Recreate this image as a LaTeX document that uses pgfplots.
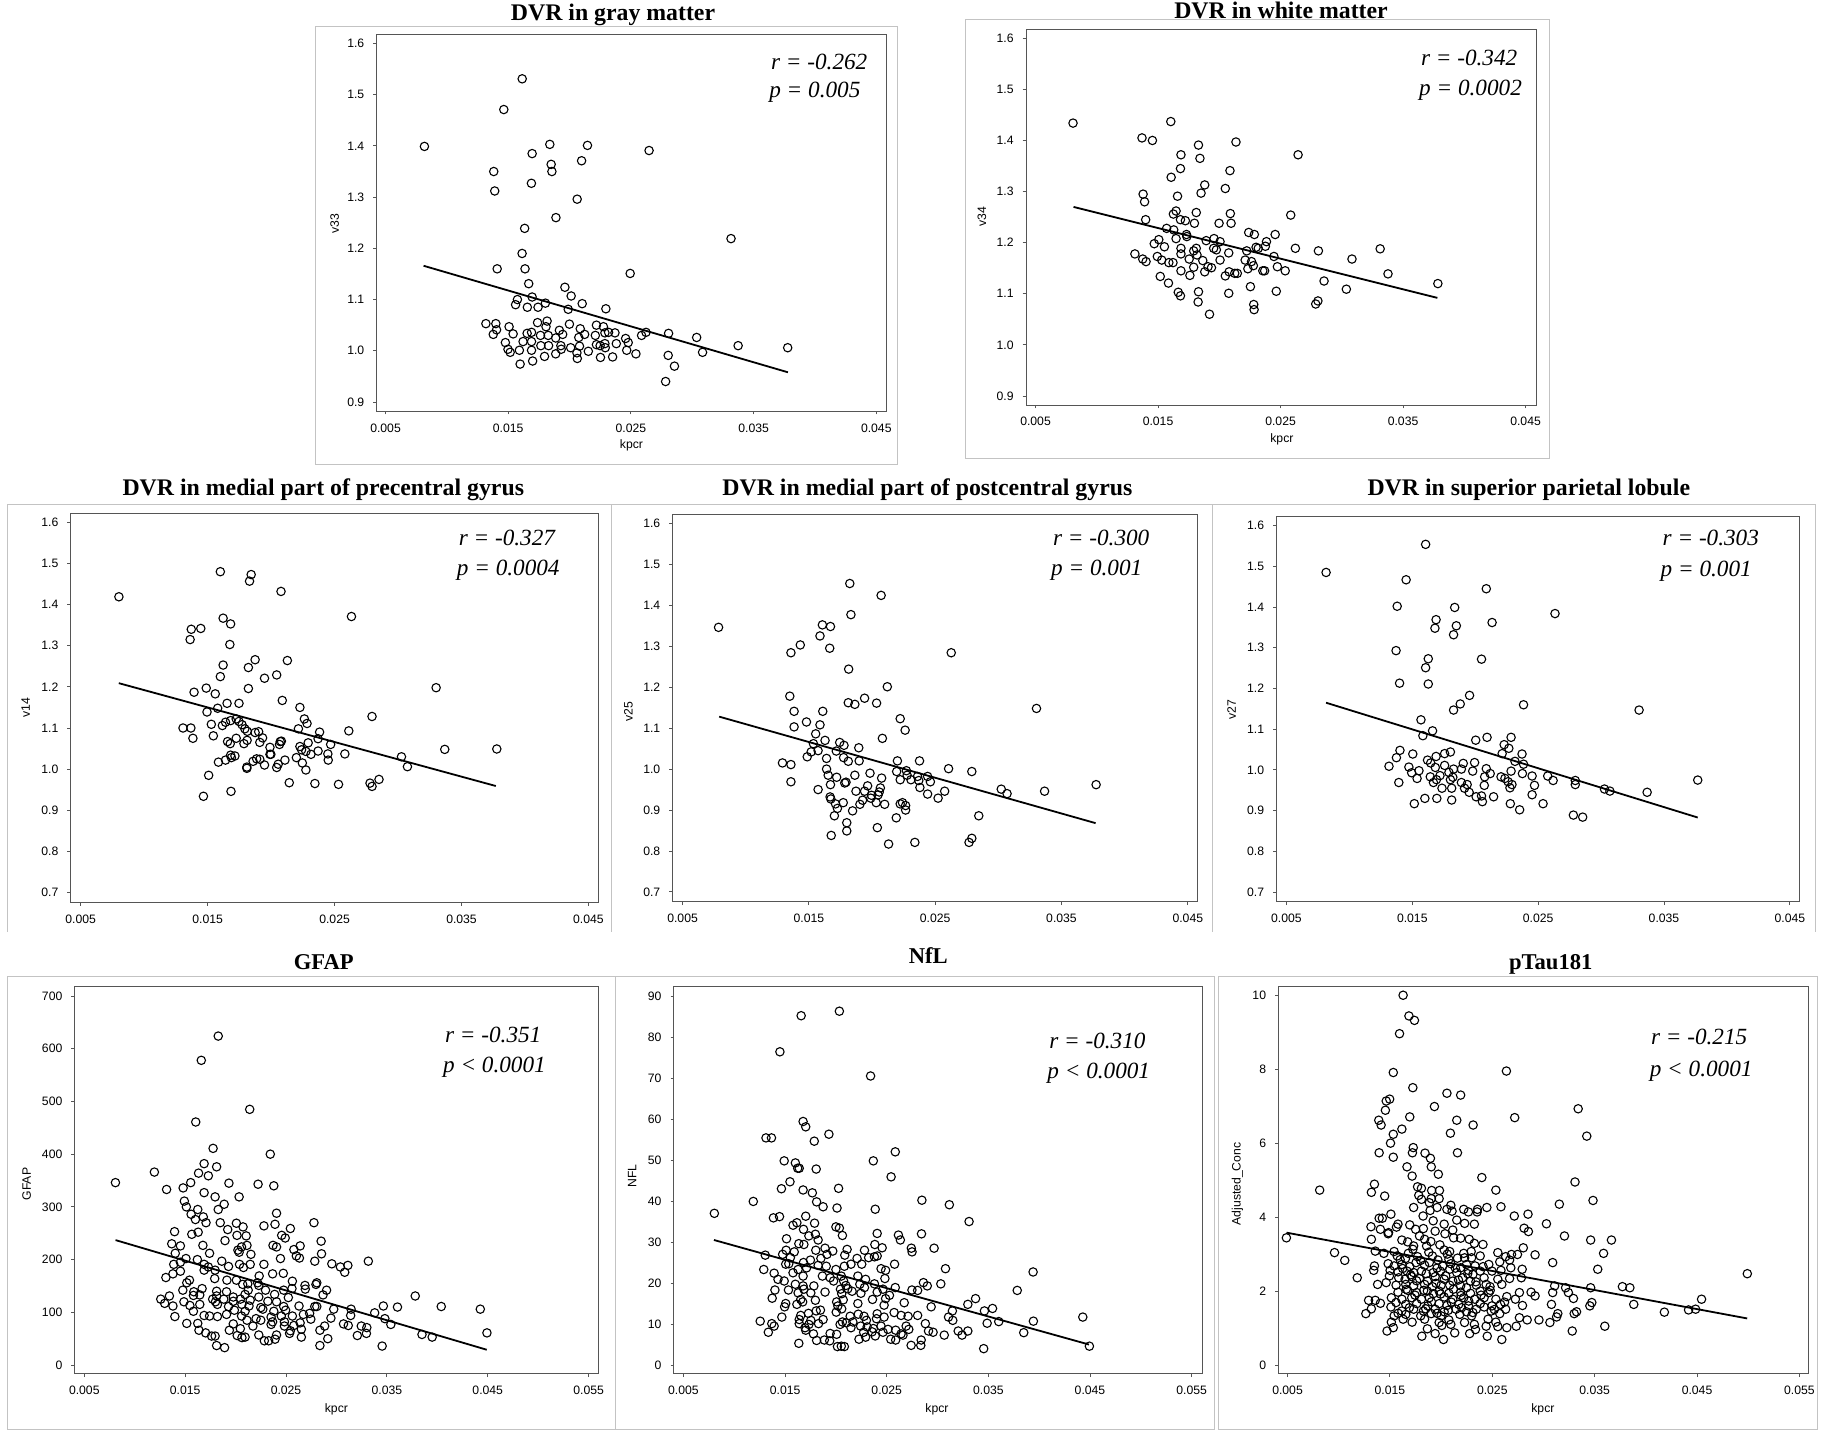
\documentclass[border=0pt]{standalone}
\usepackage{pgfplots}
\pgfplotsset{compat=1.18}
\usepackage{fontspec}
\setmainfont{Liberation Serif}
\setsansfont{Liberation Sans}
\definecolor{frame}{RGB}{85,85,85}
\definecolor{boxc}{RGB}{195,195,195}
\newcommand{\tfont}{\sffamily\fontsize{6.1}{6.5}\selectfont}
\newcommand{\ttl}{\fontsize{11.9}{12}\selectfont\bfseries}
\newcommand{\ttlb}{\fontsize{11.3}{12}\selectfont\bfseries}
\newcommand{\ann}{\fontsize{11.6}{12}\selectfont\itshape}
\pgfplotsset{
 panel/.style={scale only axis, anchor=north west,
   axis line style={frame, line width=0.5pt},
   tick style={frame, line width=0.5pt},
   tick align=outside, major tick length=1.7pt, tick pos=left,
   scaled x ticks=false, scaled y ticks=false,
   ticklabel style={font=\tfont, text=black},
   xticklabel style={yshift=-1pt}, yticklabel style={xshift=-1pt},
   /pgf/number format/assume math mode=true},
 xA/.style={xtick={0.005,0.015,0.025,0.035,0.045}, xticklabels={0.005,0.015,0.025,0.035,0.045}},
 xB/.style={xtick={0.005,0.015,0.025,0.035,0.045,0.055}, xticklabels={0.005,0.015,0.025,0.035,0.045,0.055}},
 yA/.style={ymin=0.8824, ymax=1.6175, ytick={0.9,1,1.1,1.2,1.3,1.4,1.5,1.6}, yticklabels={0.9,1.0,1.1,1.2,1.3,1.4,1.5,1.6}},
 yB/.style={ymin=0.6762, ymax=1.6219, ytick={0.7,0.8,0.9,1,1.1,1.2,1.3,1.4,1.5,1.6}, yticklabels={0.7,0.8,0.9,1.0,1.1,1.2,1.3,1.4,1.5,1.6}},
 pts/.style={only marks, mark=o, mark size=2.1pt, mark options={line width=0.55pt, black}},
 fit/.style={black, line width=0.9pt, no marks},
}
\begin{document}
\begin{tikzpicture}
\fill[white] (0,0) rectangle (912pt,-716pt);
\useasboundingbox (0,0) rectangle (912pt,-716pt);
% outer boxes
\draw[boxc, line width=0.5pt] (157.65pt,-13pt) rectangle (448.85pt,-232pt);
\draw[boxc, line width=0.5pt] (482.5pt,-9.5pt) rectangle (774.5pt,-229pt);
\draw[boxc, line width=0.5pt] (3.5pt,-466pt) -- (3.5pt,-252pt) -- (305.85pt,-252pt) -- (305.85pt,-466pt);
\draw[boxc, line width=0.5pt] (305.85pt,-252pt) -- (606.4pt,-252pt) -- (606.4pt,-466pt);
\draw[boxc, line width=0.5pt] (606.4pt,-252pt) -- (907.5pt,-252pt) -- (907.5pt,-466pt);
\draw[boxc, line width=0.5pt] (3.65pt,-488.35pt) rectangle (307.5pt,-714.5pt);
\draw[boxc, line width=0.5pt] (307.5pt,-488.35pt) rectangle (607.4pt,-714.5pt);
\draw[boxc, line width=0.5pt] (609pt,-488.35pt) rectangle (908.5pt,-714.5pt);

% ---------- P1 gray matter
\begin{axis}[panel, xA, yA, at={(188.35pt,-17.25pt)}, width=255pt, height=188.25pt, xmin=0.00428, xmax=0.04585]
\addplot[pts] coordinates {(0.00817,1.399)(0.01614,1.531)(0.01464,1.471)(0.01382,1.350)(0.0139,1.312)(0.0141,1.160)(0.01695,1.385)(0.01839,1.403)(0.0185,1.364)(0.01856,1.350)(0.01689,1.327)(0.02098,1.371)(0.02146,1.401)(0.02062,1.296)(0.01889,1.260)(0.01634,1.239)(0.01613,1.190)(0.01637,1.160)(0.01667,1.131)(0.02648,1.391)(0.03316,1.219)(0.02494,1.151)(0.01962,1.124)(0.02013,1.107)(0.01695,1.105)(0.01575,1.100)(0.0156,1.090)(0.01656,1.085)(0.01743,1.085)(0.01803,1.093)(0.01989,1.081)(0.02103,1.092)(0.02296,1.082)(0.01318,1.053)(0.01399,1.053)(0.01405,1.041)(0.01378,1.032)(0.01507,1.047)(0.0154,1.033)(0.01477,1.016)(0.01498,1.003)(0.01516,0.997)(0.01591,1.001)(0.01597,0.974)(0.01621,1.018)(0.01654,1.034)(0.0169,1.036)(0.0169,1.001)(0.01699,0.980)(0.0169,1.018)(0.01739,1.055)(0.01763,1.030)(0.01766,1.010)(0.01796,0.989)(0.01808,1.047)(0.01817,1.058)(0.01826,1.030)(0.01829,1.010)(0.01887,1.025)(0.01917,1.040)(0.01929,1.010)(0.01944,1.032)(0.01887,0.994)(0.01932,1.003)(0.01999,1.052)(0.02009,1.006)(0.02060,0.996)(0.02063,0.985)(0.02075,1.026)(0.02087,1.043)(0.02081,1.009)(0.02123,1.032)(0.02153,0.999)(0.02219,1.050)(0.0221,1.030)(0.02219,1.012)(0.02252,0.987)(0.02249,1.010)(0.02276,1.047)(0.02288,1.035)(0.02288,1.014)(0.02291,1.006)(0.02318,1.036)(0.02370,1.035)(0.02381,1.014)(0.02351,0.988)(0.02457,1.024)(0.02478,1.016)(0.02466,1.001)(0.02541,0.994)(0.02587,1.030)(0.02623,1.036)(0.02807,1.034)(0.02804,0.991)(0.02783,0.940)(0.02855,0.970)(0.03036,1.026)(0.03084,0.997)(0.03374,1.010)(0.03778,1.006)};
\addplot[fit] coordinates {(0.0081,1.166)(0.0378,0.958)};
\end{axis}

% ---------- P2 white matter
\begin{axis}[panel, xA, yA, at={(513.05pt,-14.65pt)}, width=255pt, height=187.85pt, xmin=0.00423, xmax=0.04586]
\addplot[pts] coordinates {(0.00806,1.434)(0.01604,1.437)(0.01369,1.405)(0.01454,1.400)(0.01687,1.372)(0.01830,1.391)(0.01842,1.365)(0.01683,1.345)(0.01607,1.328)(0.02136,1.397)(0.02087,1.341)(0.02643,1.372)(0.01881,1.313)(0.01851,1.297)(0.02049,1.306)(0.01378,1.295)(0.0139,1.280)(0.01659,1.291)(0.01399,1.245)(0.01647,1.262)(0.01625,1.256)(0.01812,1.259)(0.0209,1.257)(0.02096,1.238)(0.01998,1.238)(0.01683,1.245)(0.01723,1.243)(0.02583,1.254)(0.01797,1.238)(0.0157,1.228)(0.01628,1.225)(0.01732,1.216)(0.01647,1.208)(0.01735,1.212)(0.01506,1.206)(0.01469,1.198)(0.01552,1.192)(0.01311,1.178)(0.01375,1.168)(0.01402,1.163)(0.01494,1.173)(0.0153,1.166)(0.01588,1.161)(0.01622,1.161)(0.01687,1.189)(0.01687,1.178)(0.01754,1.168)(0.01791,1.184)(0.01812,1.189)(0.01818,1.176)(0.01865,1.165)(0.01791,1.152)(0.01893,1.204)(0.01957,1.208)(0.02006,1.202)(0.01954,1.189)(0.01976,1.186)(0.02077,1.180)(0.02006,1.166)(0.01881,1.143)(0.01908,1.153)(0.01936,1.151)(0.01518,1.134)(0.01585,1.121)(0.01687,1.145)(0.0176,1.136)(0.02049,1.135)(0.0208,1.143)(0.02126,1.140)(0.02147,1.140)(0.01665,1.103)(0.01683,1.096)(0.0183,1.104)(0.01827,1.084)(0.02077,1.101)(0.0192,1.060)(0.0224,1.220)(0.02286,1.216)(0.02456,1.216)(0.02224,1.184)(0.02211,1.166)(0.02233,1.149)(0.02263,1.163)(0.02278,1.155)(0.023,1.191)(0.02318,1.189)(0.02385,1.202)(0.02376,1.193)(0.02446,1.173)(0.02474,1.153)(0.02355,1.145)(0.0237,1.145)(0.02538,1.145)(0.02254,1.114)(0.02465,1.105)(0.02281,1.079)(0.02284,1.069)(0.02621,1.189)(0.02809,1.184)(0.02855,1.125)(0.02787,1.080)(0.02805,1.086)(0.03037,1.109)(0.03083,1.168)(0.03313,1.188)(0.03377,1.139)(0.03784,1.120)};
\addplot[fit] coordinates {(0.0081,1.270)(0.0378,1.092)};
\end{axis}

% ---------- P3 precentral
\begin{axis}[panel, xA, yB, at={(35.4pt,-256.65pt)}, width=263.65pt, height=194.5pt, xmin=0.00422, xmax=0.04576]
\addplot[pts] coordinates {(0.00801,1.419)(0.0160,1.480)(0.01843,1.473)(0.0183,1.457)(0.02078,1.432)(0.02633,1.371)(0.01622,1.367)(0.01681,1.353)(0.01371,1.340)(0.01446,1.342)(0.01362,1.315)(0.01675,1.303)(0.01874,1.266)(0.02128,1.264)(0.01622,1.253)(0.01821,1.247)(0.016,1.225)(0.02044,1.229)(0.01948,1.221)(0.01821,1.196)(0.01489,1.197)(0.01393,1.187)(0.0156,1.183)(0.01653,1.160)(0.01747,1.160)(0.02088,1.167)(0.01579,1.148)(0.02227,1.150)(0.033,1.198)(0.01495,1.139)(0.02262,1.122)(0.02283,1.111)(0.02795,1.128)(0.01306,1.1)(0.01368,1.1)(0.01384,1.075)(0.01529,1.109)(0.01545,1.081)(0.01616,1.106)(0.01641,1.114)(0.01681,1.118)(0.01725,1.122)(0.01747,1.116)(0.01771,1.108)(0.01793,1.098)(0.01812,1.092)(0.01657,1.067)(0.01678,1.062)(0.01725,1.075)(0.01786,1.062)(0.01811,1.070)(0.01874,1.089)(0.01902,1.091)(0.01911,1.065)(0.01933,1.076)(0.01991,1.053)(0.01998,1.036)(0.02072,1.067)(0.02081,1.068)(0.02066,1.060)(0.02227,1.055)(0.0224,1.047)(0.02215,1.098)(0.02274,1.043)(0.02292,1.064)(0.02314,1.036)(0.0237,1.044)(0.0237,1.074)(0.02382,1.090)(0.02447,1.037)(0.0245,1.022)(0.02469,1.060)(0.02581,1.037)(0.02612,1.093)(0.01585,1.017)(0.01641,1.022)(0.01681,1.034)(0.01715,1.032)(0.01687,1.028)(0.01809,1.005)(0.01809,1.002)(0.01858,1.019)(0.01886,1.025)(0.01911,1.024)(0.01948,1.010)(0.01991,1.036)(0.02044,1.004)(0.02056,1.012)(0.02109,1.022)(0.02199,1.028)(0.02246,1.015)(0.02274,0.998)(0.02143,0.967)(0.02345,0.965)(0.02531,0.963)(0.02779,0.966)(0.02795,0.958)(0.0285,0.975)(0.01508,0.985)(0.01467,0.934)(0.01684,0.946)(0.03027,1.030)(0.03074,1.006)(0.03368,1.048)(0.03778,1.049)};
\addplot[fit] coordinates {(0.0080,1.209)(0.0377,0.959)};
\end{axis}

% ---------- P4 postcentral
\begin{axis}[panel, xA, yB, at={(336.35pt,-257.15pt)}, width=262.35pt, height=193.7pt, xmin=0.00422, xmax=0.04576]
\addplot[pts] coordinates {(0.00785,1.346)(0.01824,1.453)(0.02072,1.424)(0.01833,1.377)(0.01607,1.352)(0.01671,1.348)(0.01588,1.325)(0.01665,1.295)(0.01432,1.303)(0.01358,1.284)(0.02627,1.284)(0.01815,1.244)(0.02121,1.201)(0.01941,1.173)(0.01812,1.162)(0.01864,1.158)(0.02036,1.161)(0.03302,1.148)(0.01349,1.178)(0.0161,1.141)(0.01383,1.141)(0.01383,1.103)(0.01481,1.115)(0.01588,1.108)(0.02223,1.123)(0.02262,1.095)(0.02082,1.075)(0.01554,1.086)(0.01628,1.070)(0.01744,1.065)(0.01778,1.058)(0.01536,1.062)(0.01518,1.042)(0.01487,1.030)(0.01573,1.045)(0.0164,1.026)(0.01717,1.044)(0.01775,1.028)(0.01895,1.052)(0.01812,1.019)(0.01898,1.020)(0.01358,1.011)(0.01358,0.969)(0.01291,1.015)(0.01573,0.950)(0.0164,1.0)(0.01653,0.985)(0.01671,0.962)(0.01668,0.932)(0.01674,0.927)(0.01711,0.915)(0.01726,0.904)(0.01702,0.886)(0.01677,0.838)(0.01772,0.918)(0.01846,0.898)(0.018,0.869)(0.018,0.849)(0.01794,0.968)(0.01784,0.966)(0.01864,0.985)(0.01873,0.946)(0.01904,0.914)(0.01925,0.924)(0.01941,0.946)(0.01965,0.959)(0.01984,0.990)(0.0199,0.929)(0.01996,0.936)(0.02033,0.918)(0.02048,0.937)(0.02057,0.944)(0.02066,0.954)(0.02076,0.978)(0.021,0.914)(0.02042,0.857)(0.02131,0.817)(0.02192,0.881)(0.02201,1.020)(0.02195,0.994)(0.02223,0.974)(0.02223,0.915)(0.02241,0.918)(0.02266,0.911)(0.02266,0.9)(0.02272,0.996)(0.02278,0.985)(0.02308,0.974)(0.02339,0.821)(0.0236,0.982)(0.0237,0.972)(0.02376,1.020)(0.02379,0.955)(0.0244,0.982)(0.0244,0.939)(0.02462,0.969)(0.02523,0.929)(0.02575,0.946)(0.02606,1.001)(0.0279,0.994)(0.02768,0.821)(0.0279,0.831)(0.02845,0.886)(0.03023,0.951)(0.03069,0.940)(0.03366,0.946)(0.03774,0.962)(0.0172,0.980)};
\addplot[fit] coordinates {(0.0079,1.128)(0.0377,0.868)};
\end{axis}

% ---------- P5 superior parietal
\begin{axis}[panel, xA, yB, at={(638.3pt,-258.35pt)}, width=261.4pt, height=192.5pt, xmin=0.00422, xmax=0.04576]
\addplot[pts] coordinates {(0.00815,1.485)(0.01606,1.554)(0.01451,1.467)(0.02088,1.445)(0.0138,1.402)(0.01837,1.399)(0.02634,1.384)(0.01689,1.369)(0.0168,1.348)(0.0185,1.354)(0.01828,1.332)(0.02134,1.362)(0.01371,1.293)(0.01627,1.273)(0.01606,1.251)(0.0205,1.272)(0.01627,1.211)(0.01399,1.213)(0.01955,1.183)(0.01881,1.162)(0.01828,1.147)(0.02384,1.160)(0.03302,1.147)(0.01569,1.123)(0.01661,1.096)(0.01584,1.084)(0.02004,1.073)(0.02094,1.080)(0.02285,1.080)(0.0223,1.062)(0.02267,1.053)(0.02214,1.040)(0.02372,1.039)(0.02316,1.021)(0.02384,1.014)(0.01402,1.048)(0.01374,1.030)(0.01315,1.009)(0.01393,0.969)(0.01473,1.007)(0.01504,1.039)(0.01495,0.993)(0.01538,0.979)(0.01553,0.998)(0.01621,1.024)(0.01646,1.017)(0.01689,1.033)(0.01683,1.006)(0.01643,0.983)(0.01668,0.969)(0.01692,0.976)(0.0172,0.986)(0.01757,1.011)(0.01757,1.040)(0.01803,1.044)(0.01791,0.994)(0.01803,0.976)(0.01736,0.955)(0.01828,1.002)(0.01822,0.982)(0.01813,0.955)(0.01905,1.016)(0.0189,1.002)(0.0189,0.969)(0.01915,0.955)(0.01936,0.964)(0.01952,0.945)(0.0198,0.997)(0.01995,1.018)(0.02007,0.934)(0.0205,0.936)(0.02057,0.922)(0.02072,0.962)(0.02075,0.983)(0.02088,1.003)(0.02119,0.991)(0.02146,0.934)(0.016,0.930)(0.01516,0.917)(0.01695,0.930)(0.01813,0.926)(0.02205,0.983)(0.02236,0.979)(0.02261,0.971)(0.02276,0.956)(0.02292,0.964)(0.02285,0.997)(0.02279,0.917)(0.02353,0.902)(0.02375,0.991)(0.02452,0.985)(0.02471,0.962)(0.02452,0.939)(0.02539,0.917)(0.02576,0.985)(0.02619,0.974)(0.02795,0.974)(0.02795,0.964)(0.0278,0.889)(0.02854,0.884)(0.03027,0.953)(0.0307,0.948)(0.03366,0.945)(0.03768,0.975)};
\addplot[fit] coordinates {(0.00815,1.165)(0.03768,0.883)};
\end{axis}

% ---------- P6 GFAP
\begin{axis}[panel, xB, at={(37.4pt,-493.35pt)}, width=261.65pt, height=193.5pt, xmin=0.00406, xmax=0.05594, ymin=-16.5, ymax=717.6, ytick={0,100,200,300,400,500,600,700}, yticklabels={0,100,200,300,400,500,600,700}]
\addplot[pts] coordinates {(0.00809,346)(0.01195,366)(0.01316,333)(0.01828,624)(0.0166,578)(0.0214,485)(0.01605,461)(0.01777,411)(0.02344,400)(0.01812,376)(0.01688,382)(0.01633,364)(0.0173,359)(0.01555,346)(0.0148,336)(0.01934,345)(0.02223,343)(0.02379,340)(0.01688,327)(0.01797,319)(0.02035,319)(0.01887,305)(0.01492,311)(0.01512,300)(0.01625,295)(0.01828,295)(0.01559,286)(0.0168,281)(0.01602,276)(0.01707,270)(0.02406,288)(0.01848,270)(0.02008,269)(0.02281,264)(0.02391,267)(0.02074,262)(0.01922,257)(0.02543,259)(0.02777,270)(0.01395,253)(0.01629,252)(0.01566,248)(0.02014,246)(0.02105,245)(0.02457,246)(0.02492,241)(0.01895,236)(0.02848,235)(0.01367,230)(0.01453,226)(0.01676,227)(0.02113,227)(0.02059,224)(0.02371,227)(0.02406,224)(0.0264,226)(0.02578,219)(0.02023,218)(0.02035,214)(0.01402,212)(0.01742,212)(0.02152,210)(0.02445,202)(0.02602,207)(0.02633,203)(0.01508,202)(0.01621,200)(0.02852,211)(0.02785,197)(0.02954,192)(0.03316,197)(0.03113,189)(0.03039,186)(0.03082,176)(0.01387,191)(0.01453,195)(0.01688,191)(0.0173,186)(0.01863,197)(0.0193,187)(0.02039,191)(0.02078,185)(0.02145,191)(0.02281,191)(0.02367,173)(0.02473,174)(0.01688,180)(0.01797,180)(0.01453,178)(0.01379,173)(0.01309,166)(0.01793,164)(0.01914,161)(0.02008,161)(0.02121,154)(0.02219,156)(0.02234,169)(0.02563,159)(0.01516,156)(0.01543,161)(0.0207,153)(0.0223,151)(0.02688,151)(0.02797,153)(0.02805,156)(0.01477,142)(0.01668,145)(0.01586,139)(0.01812,140)(0.0191,139)(0.02125,142)(0.02297,142)(0.02477,142)(0.02559,145)(0.02691,144)(0.02902,142)(0.01344,131)(0.01582,132)(0.01645,133)(0.01812,131)(0.01977,129)(0.02094,134)(0.0223,129)(0.02387,134)(0.02523,128)(0.02867,133)(0.03781,131)(0.01258,125)(0.01297,117)(0.01773,125)(0.01883,125)(0.01977,121)(0.02047,125)(0.02145,123)(0.0232,121)(0.02406,120)(0.01379,112)(0.01488,120)(0.01547,113)(0.01645,115)(0.0182,115)(0.01801,120)(0.0193,111)(0.02063,115)(0.02133,112)(0.0225,109)(0.02477,111)(0.02629,112)(0.02785,111)(0.02805,111)(0.02973,106)(0.03145,106)(0.03465,112)(0.03605,110)(0.04039,111)(0.04426,106)(0.01582,102)(0.01988,104)(0.02094,102)(0.0227,106)(0.02379,102)(0.02496,104)(0.03379,99)(0.03141,94)(0.01398,92)(0.01688,94)(0.01742,93)(0.0182,92)(0.0191,96)(0.02059,93)(0.02203,88)(0.02352,91)(0.02453,93)(0.02563,93)(0.02672,96)(0.02734,98)(0.02945,89)(0.0348,88)(0.0225,85)(0.02113,85)(0.02367,82)(0.02484,82)(0.0264,80)(0.02746,87)(0.01516,79)(0.01625,79)(0.01977,78)(0.02172,74)(0.02352,77)(0.02484,74)(0.02578,75)(0.02883,74)(0.0307,78)(0.03117,75)(0.03246,74)(0.03301,71)(0.03539,77)(0.01938,66)(0.01637,66)(0.02047,69)(0.02543,65)(0.02652,68)(0.02836,66)(0.01703,61)(0.02016,56)(0.02063,52)(0.02094,53)(0.0223,57)(0.02406,57)(0.02535,60)(0.02652,53)(0.03297,60)(0.03207,56)(0.03848,58)(0.03949,53)(0.04492,61)(0.01762,55)(0.01797,55)(0.02285,46)(0.02328,46)(0.02391,49)(0.02914,50)(0.01812,37)(0.01891,33)(0.02836,37)(0.03453,36)};
\addplot[fit] coordinates {(0.0081,237)(0.0449,29)};
\end{axis}

% ---------- P7 NfL
\begin{axis}[panel, xB, at={(336.95pt,-493.35pt)}, width=264.05pt, height=193.5pt, xmin=0.00406, xmax=0.05602, ymin=-2.12, ymax=92.27, ytick={0,10,20,30,40,50,60,70,80,90}, yticklabels={0,10,20,30,40,50,60,70,80,90}]
\addplot[pts] coordinates {(0.00804,37.0)(0.01187,39.9)(0.01658,85.2)(0.02034,86.3)(0.01449,76.4)(0.02341,70.5)(0.01677,59.4)(0.01703,58.1)(0.01312,55.4)(0.01366,55.4)(0.01931,56.3)(0.01787,54.6)(0.02584,52.0)(0.01491,49.8)(0.01601,49.3)(0.01624,48.0)(0.01639,48.0)(0.01806,47.8)(0.02368,49.8)(0.02543,45.9)(0.01548,44.7)(0.01464,43.0)(0.01677,42.7)(0.01768,42.0)(0.02026,43.1)(0.0181,39.8)(0.01874,38.6)(0.02011,38.3)(0.02387,38.0)(0.02846,40.2)(0.03116,39.1)(0.0331,35.0)(0.01385,35.9)(0.01445,36.2)(0.01578,34.1)(0.01703,36.3)(0.0179,34.6)(0.01616,34.7)(0.01681,33.1)(0.02,33.7)(0.02034,33.4)(0.02406,32.1)(0.02615,31.7)(0.02842,32.0)(0.01514,30.8)(0.01798,31.9)(0.01734,31.5)(0.01825,30.5)(0.02064,31.6)(0.02634,30.5)(0.01635,29.6)(0.01685,29.4)(0.02383,29.4)(0.02455,28.6)(0.02742,28.5)(0.02966,28.5)(0.01305,26.8)(0.01476,27.0)(0.0151,28.0)(0.0159,27.6)(0.01802,28.0)(0.01893,28.5)(0.01969,27.8)(0.0211,28.2)(0.02281,28.0)(0.02749,27.6)(0.01552,26.2)(0.01681,25.0)(0.01749,25.6)(0.01852,26.0)(0.01912,27.0)(0.02087,26.8)(0.02208,26.0)(0.02322,26.2)(0.02379,26.4)(0.02406,26.6)(0.01506,24.6)(0.01536,24.7)(0.01628,23.3)(0.01711,23.7)(0.01825,24.3)(0.01905,24.1)(0.02,23.3)(0.02083,24.1)(0.02148,24.6)(0.02254,24.6)(0.02577,24.6)(0.02444,23.5)(0.02489,23.1)(0.03078,23.5)(0.0394,22.7)(0.0129,23.3)(0.01392,22.4)(0.01578,22.5)(0.01677,21.7)(0.01867,21.7)(0.01943,21.3)(0.02053,21.7)(0.02076,20.5)(0.02216,21.7)(0.02292,20.9)(0.02482,21.1)(0.0143,20.9)(0.01491,20.5)(0.01977,20.5)(0.02235,19.7)(0.02379,19.8)(0.02861,20.1)(0.03032,19.8)(0.01601,19.7)(0.01677,19.3)(0.01783,19.3)(0.02098,19.4)(0.02117,18.6)(0.02281,18.9)(0.02584,18.9)(0.02899,19.3)(0.014,18.3)(0.01533,18.3)(0.01685,18.5)(0.01893,17.8)(0.02045,18.5)(0.02159,18.0)(0.02463,18.5)(0.02748,18.3)(0.02804,18.2)(0.03784,18.2)(0.01628,17.6)(0.01753,17.6)(0.02057,17.4)(0.02246,17.5)(0.02406,17.8)(0.02527,17.0)(0.03374,16.2)(0.01373,16.3)(0.01654,16.0)(0.01798,15.8)(0.02007,15.4)(0.02072,15.9)(0.0236,16.0)(0.02489,16.2)(0.02672,15.2)(0.01673,15.4)(0.02216,15.0)(0.01506,15.0)(0.01495,14.2)(0.01616,14.8)(0.02019,14.4)(0.02057,13.7)(0.02474,14.6)(0.02937,14.2)(0.03298,14.8)(0.03541,13.8)(0.01806,13.2)(0.01848,13.4)(0.02003,12.9)(0.0222,12.4)(0.02406,12.5)(0.02573,12.8)(0.02641,12.1)(0.02804,12.1)(0.03146,13.2)(0.03461,13.2)(0.0173,12.6)(0.01654,12.1)(0.01468,11.7)(0.0214,11.9)(0.02277,11.9)(0.02474,11.7)(0.0271,11.9)(0.03108,11.7)(0.04429,11.7)(0.01255,10.7)(0.01639,11.1)(0.01753,10.9)(0.01874,11.1)(0.02102,10.3)(0.02167,10.5)(0.023,10.9)(0.02399,11.3)(0.0315,10.9)(0.03488,10.2)(0.03602,10.6)(0.03943,10.7)(0.01369,10.1)(0.01639,10.1)(0.01734,9.9)(0.01829,10.1)(0.02041,9.9)(0.02064,10.5)(0.02243,9.5)(0.02307,9.3)(0.02444,9.5)(0.02691,9.5)(0.0288,10.1)(0.01392,9.5)(0.01696,9.1)(0.02148,9.1)(0.02368,8.9)(0.02512,8.7)(0.02588,8.5)(0.02717,8.7)(0.01703,8.5)(0.02356,8.1)(0.01335,8.0)(0.01779,7.6)(0.01943,7.7)(0.02007,7.5)(0.02273,8.0)(0.02463,8.0)(0.02641,7.6)(0.02911,8.3)(0.02956,8.0)(0.03203,8.3)(0.03298,8.3)(0.03241,7.3)(0.03066,7.3)(0.03848,7.9)(0.02387,7.1)(0.02539,6.3)(0.02588,6.1)(0.0266,7.3)(0.0181,6.0)(0.01886,6.1)(0.01939,5.9)(0.02227,6.3)(0.02292,6.8)(0.02839,6.1)(0.01635,5.3)(0.0274,4.8)(0.02835,4.8)(0.02015,4.5)(0.02053,4.6)(0.02083,4.5)(0.03454,4.0)(0.04494,4.6)};
\addplot[fit] coordinates {(0.0080,30.5)(0.0449,5.0)};
\end{axis}

% ---------- P8 pTau181
\begin{axis}[panel, xB, at={(639.25pt,-493.35pt)}, width=264.95pt, height=193.5pt, xmin=0.00412, xmax=0.05588, ymin=-0.235, ymax=10.23, ytick={0,2,4,6,8,10}, yticklabels={0,2,4,6,8,10}]
\addplot[pts] coordinates {(0.00489,3.44)(0.00814,4.73)(0.00959,3.04)(0.01059,2.83)(0.01181,2.36)(0.01629,10.0)(0.01686,9.44)(0.0174,9.32)(0.01594,8.96)(0.01533,7.91)(0.02638,7.95)(0.01724,7.50)(0.02057,7.35)(0.02191,7.30)(0.01498,7.19)(0.01464,7.14)(0.01935,6.99)(0.03339,6.93)(0.01456,6.89)(0.01694,6.71)(0.02719,6.69)(0.01391,6.62)(0.01414,6.49)(0.02153,6.62)(0.02313,6.49)(0.01617,6.38)(0.01533,6.24)(0.02091,6.27)(0.03423,6.19)(0.01506,6.0)(0.01395,5.74)(0.01728,5.88)(0.0172,5.74)(0.0216,5.74)(0.01843,5.73)(0.01533,5.62)(0.01896,5.59)(0.01667,5.36)(0.01904,5.36)(0.01717,5.11)(0.01973,5.16)(0.02398,5.07)(0.03308,4.95)(0.01349,4.89)(0.01319,4.67)(0.01449,4.57)(0.0177,4.82)(0.01808,4.78)(0.01908,4.72)(0.01984,4.72)(0.02535,4.73)(0.01782,4.59)(0.01808,4.48)(0.01885,4.39)(0.01904,4.50)(0.01981,4.50)(0.03484,4.45)(0.03155,4.35)(0.02095,4.32)(0.01732,4.26)(0.01893,4.18)(0.01961,4.26)(0.02057,4.21)(0.02221,4.21)(0.02107,4.16)(0.02267,4.14)(0.02355,4.21)(0.02447,4.26)(0.02585,4.28)(0.02352,4.14)(0.02849,4.08)(0.02715,4.03)(0.0151,4.08)(0.01395,3.97)(0.01426,3.97)(0.01824,4.03)(0.01923,3.90)(0.0203,3.81)(0.02153,3.92)(0.0223,3.83)(0.02325,3.81)(0.03029,3.82)(0.01315,3.74)(0.01407,3.67)(0.01487,3.58)(0.01564,3.73)(0.01579,3.81)(0.01694,3.79)(0.01751,3.67)(0.01827,3.69)(0.01942,3.62)(0.02114,3.65)(0.02811,3.70)(0.02853,3.61)(0.03205,3.49)(0.03664,3.38)(0.03461,3.38)(0.01319,3.40)(0.01483,3.55)(0.01617,3.38)(0.01674,3.33)(0.01732,3.22)(0.01789,3.49)(0.01839,3.40)(0.01858,3.22)(0.019,3.34)(0.02038,3.55)(0.02122,3.44)(0.02191,3.43)(0.02275,3.40)(0.02325,3.29)(0.02409,3.26)(0.01988,3.25)(0.01541,3.07)(0.01357,3.08)(0.01441,3.02)(0.01724,3.13)(0.0203,3.11)(0.02084,3.07)(0.02221,3.02)(0.02294,3.07)(0.02554,3.04)(0.02688,2.99)(0.02803,3.17)(0.02918,2.98)(0.03587,3.02)(0.01571,2.95)(0.01652,2.88)(0.0177,2.93)(0.01915,2.95)(0.01969,2.84)(0.02076,2.86)(0.0216,2.89)(0.02298,2.90)(0.02382,2.95)(0.02631,2.93)(0.02746,2.99)(0.0309,2.77)(0.01483,2.74)(0.01541,2.68)(0.01617,2.72)(0.01694,2.66)(0.01755,2.77)(0.01839,2.70)(0.01885,2.77)(0.02015,2.68)(0.02095,2.74)(0.02191,2.63)(0.02248,2.72)(0.02332,2.68)(0.02466,2.72)(0.02573,2.79)(0.02669,2.84)(0.01349,2.68)(0.01342,2.56)(0.0353,2.59)(0.02792,2.59)(0.01502,2.56)(0.01579,2.52)(0.01667,2.54)(0.01732,2.50)(0.01808,2.54)(0.01923,2.50)(0.01992,2.54)(0.02084,2.59)(0.02153,2.50)(0.02267,2.56)(0.02382,2.54)(0.02497,2.54)(0.02585,2.56)(0.02681,2.63)(0.04991,2.47)(0.01495,2.41)(0.01586,2.36)(0.01648,2.32)(0.01713,2.39)(0.01789,2.34)(0.01866,2.27)(0.01942,2.39)(0.0203,2.32)(0.02114,2.27)(0.0221,2.36)(0.02287,2.27)(0.0242,2.36)(0.02554,2.32)(0.02669,2.34)(0.02784,2.36)(0.0138,2.18)(0.01464,2.23)(0.0156,2.16)(0.01655,2.18)(0.01732,2.14)(0.01839,2.18)(0.01915,2.12)(0.02,2.16)(0.02084,2.16)(0.02191,2.14)(0.02248,2.09)(0.02344,2.16)(0.0244,2.18)(0.02478,2.12)(0.02593,2.18)(0.03109,2.14)(0.03216,2.09)(0.03461,2.09)(0.03771,2.12)(0.03844,2.09)(0.01579,1.97)(0.01674,2.02)(0.01762,1.96)(0.01866,2.0)(0.01923,1.93)(0.01981,2.0)(0.02076,1.94)(0.02191,1.97)(0.02287,1.94)(0.02382,2.0)(0.02466,1.96)(0.02765,1.96)(0.02879,1.97)(0.0309,1.96)(0.03243,1.96)(0.01514,1.82)(0.01617,1.78)(0.01713,1.82)(0.01808,1.78)(0.01885,1.82)(0.0203,1.84)(0.02114,1.78)(0.02221,1.82)(0.02329,1.78)(0.0242,1.82)(0.02535,1.78)(0.02642,1.85)(0.02726,1.78)(0.02918,1.87)(0.03293,1.80)(0.04544,1.78)(0.01292,1.75)(0.01357,1.75)(0.01407,1.67)(0.0156,1.69)(0.01655,1.64)(0.01762,1.66)(0.0187,1.60)(0.01981,1.66)(0.02057,1.61)(0.02172,1.64)(0.02267,1.60)(0.02382,1.66)(0.02497,1.60)(0.02581,1.64)(0.02795,1.61)(0.03078,1.64)(0.03453,1.60)(0.03472,1.69)(0.03882,1.64)(0.01319,1.52)(0.0151,1.57)(0.01617,1.46)(0.01732,1.51)(0.01827,1.46)(0.01942,1.51)(0.0203,1.44)(0.02145,1.51)(0.02248,1.44)(0.02344,1.51)(0.02489,1.46)(0.02631,1.51)(0.04417,1.49)(0.04486,1.51)(0.01265,1.39)(0.01541,1.33)(0.01655,1.37)(0.01801,1.33)(0.01904,1.39)(0.02,1.33)(0.02183,1.37)(0.02298,1.33)(0.02573,1.39)(0.0314,1.39)(0.0330,1.39)(0.03323,1.44)(0.04181,1.43)(0.01514,1.16)(0.01629,1.24)(0.01717,1.16)(0.01839,1.24)(0.01981,1.15)(0.02076,1.22)(0.02229,1.15)(0.02325,1.10)(0.02459,1.24)(0.02535,1.16)(0.02765,1.28)(0.02841,1.22)(0.02956,1.22)(0.03128,1.30)(0.03063,1.15)(0.01533,1.01)(0.02007,1.07)(0.02095,1.10)(0.0244,1.05)(0.02554,1.04)(0.02734,1.05)(0.03599,1.05)(0.01472,0.92)(0.01866,0.98)(0.02133,0.87)(0.02279,0.85)(0.02336,0.96)(0.02642,1.01)(0.03281,0.92)(0.01812,0.78)(0.01942,0.85)(0.02451,0.78)(0.02023,0.69)(0.02593,0.69)(0.01625,2.61)(0.01702,2.44)(0.01760,2.28)(0.01855,2.47)(0.01950,2.21)(0.02045,2.41)(0.02120,2.05)(0.02170,2.30)(0.02260,2.47)(0.02340,2.25)(0.01660,2.05)(0.01745,1.89)(0.01830,2.02)(0.01905,1.71)(0.01995,1.92)(0.02100,1.70)(0.02195,1.88)(0.02270,1.73)(0.02390,1.89)(0.02480,2.02)(0.01600,2.85)(0.01680,3.02)(0.01800,2.83)(0.01880,3.05)(0.01960,2.62)(0.02060,3.00)(0.02140,2.62)(0.02230,2.90)(0.02310,2.45)(0.02410,2.66)(0.01580,1.40)(0.01690,1.55)(0.01850,1.52)(0.01960,1.40)(0.02070,1.48)(0.02200,1.55)(0.02310,1.42)(0.02420,1.57)(0.02520,1.50)(0.02620,1.70)};
\addplot[fit] coordinates {(0.0049,3.58)(0.0499,1.26)};
\end{axis}

% ---------- titles
\node[anchor=base, font=\ttl] at (306.5pt,-10.35pt) {DVR in gray matter};
\node[anchor=base, font=\ttl] at (640.5pt,-9.15pt) {DVR in white matter};
\node[anchor=base, font=\ttl] at (161.65pt,-247.5pt) {DVR in medial part of precentral gyrus};
\node[anchor=base, font=\ttl] at (463.7pt,-247.5pt) {DVR in medial part of postcentral gyrus};
\node[anchor=base, font=\ttl] at (764.4pt,-247.5pt) {DVR in superior parietal lobule};
\node[anchor=base, font=\ttlb] at (161.85pt,-484.5pt) {GFAP};
\node[anchor=base, font=\ttlb] at (464.15pt,-481.5pt) {NfL};
\node[anchor=base, font=\ttlb] at (775.35pt,-484.5pt) {pTau181};

% ---------- r and p
\node[anchor=base west, inner sep=0pt, font=\ann] at (385.35pt,-34.5pt) {r = -0.262};
\node[anchor=base west, inner sep=0pt, font=\ann] at (384.45pt,-48.75pt) {p = 0.005};
\node[anchor=base west, inner sep=0pt, font=\ann] at (710.3pt,-32.85pt) {r = -0.342};
\node[anchor=base west, inner sep=0pt, font=\ann] at (709.4pt,-47.5pt) {p = 0.0002};
\node[anchor=base west, inner sep=0pt, font=\ann] at (229.2pt,-272.85pt) {r = -0.327};
\node[anchor=base west, inner sep=0pt, font=\ann] at (228.25pt,-287.5pt) {p = 0.0004};
\node[anchor=base west, inner sep=0pt, font=\ann] at (526.35pt,-272.85pt) {r = -0.300};
\node[anchor=base west, inner sep=0pt, font=\ann] at (525.4pt,-287.5pt) {p = 0.001};
\node[anchor=base west, inner sep=0pt, font=\ann] at (831.15pt,-272.85pt) {r = -0.303};
\node[anchor=base west, inner sep=0pt, font=\ann] at (830.15pt,-288.35pt) {p = 0.001};
\node[anchor=base west, inner sep=0pt, font=\ann] at (222.35pt,-521.35pt) {r = -0.351};
\node[anchor=base west, inner sep=0pt, font=\ann] at (221.35pt,-536.35pt) {p < 0.0001};
\node[anchor=base west, inner sep=0pt, font=\ann] at (524.45pt,-524.35pt) {r = -0.310};
\node[anchor=base west, inner sep=0pt, font=\ann] at (523.5pt,-539.35pt) {p < 0.0001};
\node[anchor=base west, inner sep=0pt, font=\ann] at (825.3pt,-522.15pt) {r = -0.215};
\node[anchor=base west, inner sep=0pt, font=\ann] at (824.7pt,-538pt) {p < 0.0001};

% ---------- axis labels
\node[font=\tfont] at (315.75pt,-222.5pt) {kpcr};
\node[font=\tfont] at (640.95pt,-219.65pt) {kpcr};
\node[font=\tfont] at (168.2pt,-704.65pt) {kpcr};
\node[font=\tfont] at (468.5pt,-704.65pt) {kpcr};
\node[font=\tfont] at (771.45pt,-704.65pt) {kpcr};
\node[font=\tfont, rotate=90] at (167.3pt,-111.65pt) {v33};
\node[font=\tfont, rotate=90] at (490.95pt,-108.35pt) {v34};
\node[font=\tfont, rotate=90] at (12.8pt,-354pt) {v14};
\node[font=\tfont, rotate=90] at (314.2pt,-356pt) {v25};
\node[font=\tfont, rotate=90] at (615.75pt,-355pt) {v27};
\node[font=\tfont, rotate=90] at (13.4pt,-592pt) {GFAP};
\node[font=\tfont, rotate=90] at (316.1pt,-588pt) {NFL};
\node[font=\tfont, rotate=90] at (618.7pt,-592pt) {Adjusted\_Conc};
\end{tikzpicture}
\end{document}
